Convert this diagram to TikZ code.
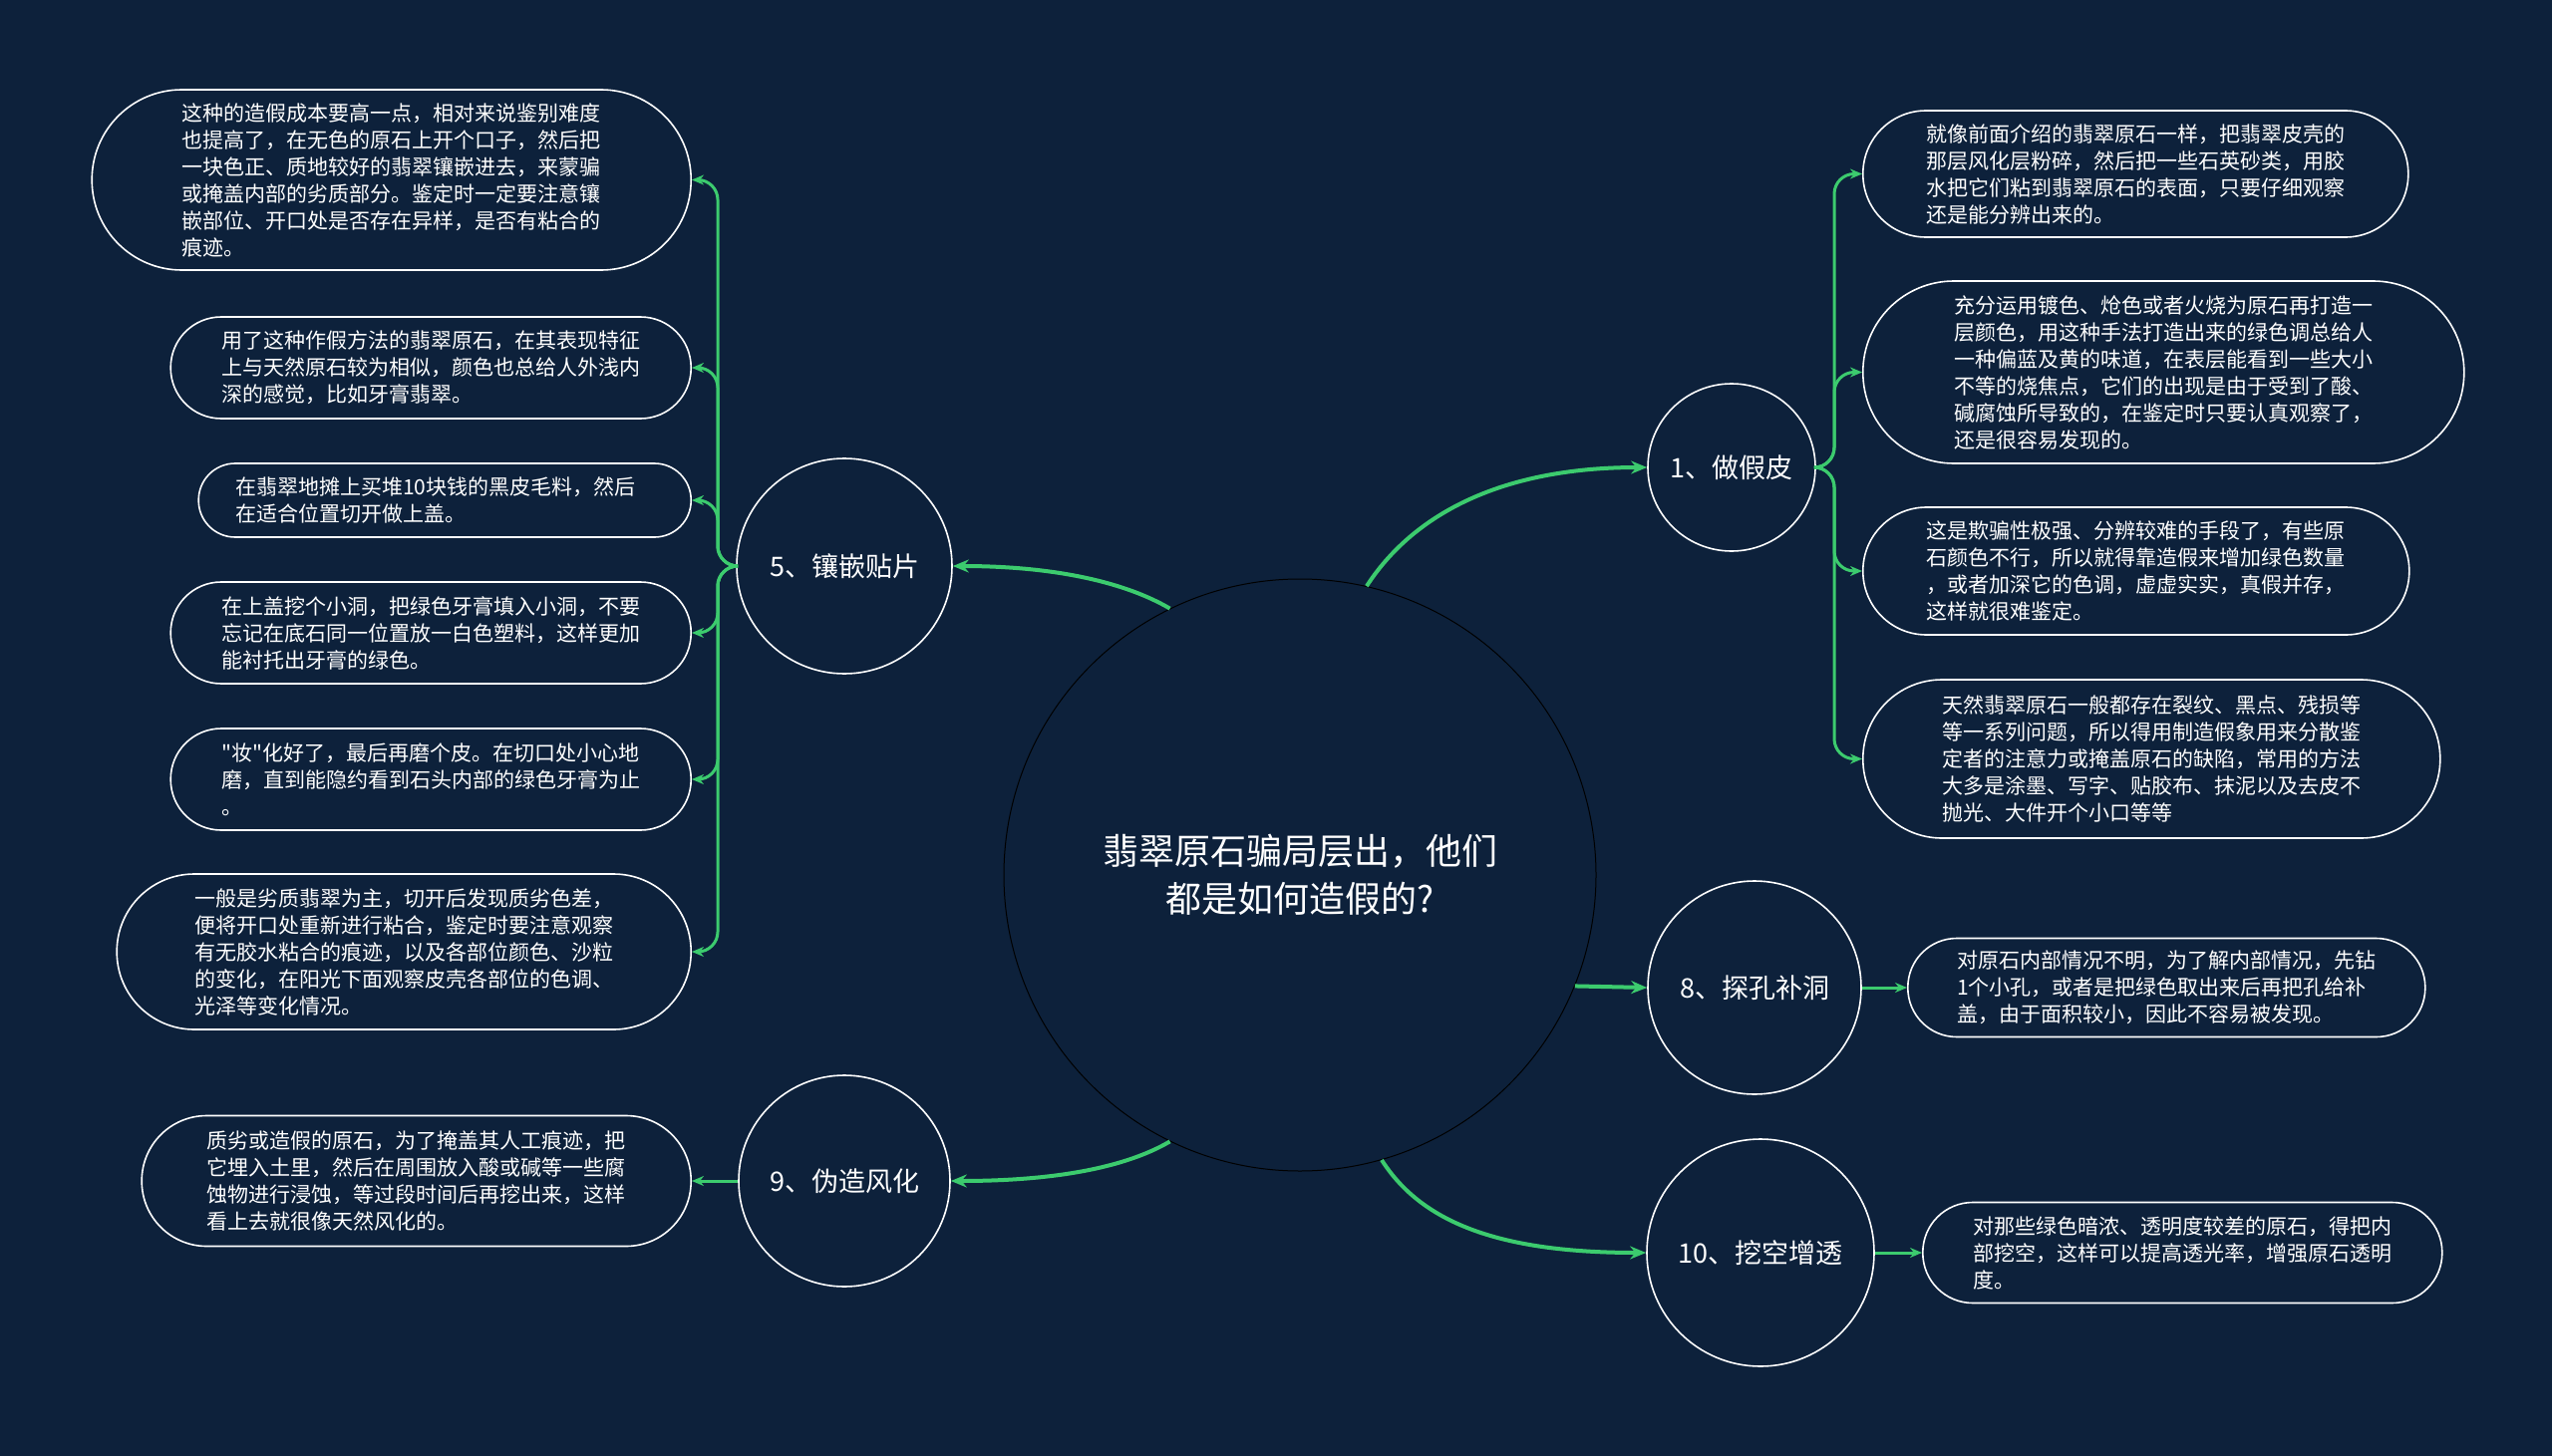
\documentclass[tikz,border=0pt]{standalone}
\usepackage{fontspec}
\newfontfamily\cjk{Noto Sans CJK SC}
\usetikzlibrary{arrows.meta}
\definecolor{bg}{HTML}{0D213B}
\definecolor{gr}{HTML}{3CCB6E}
\begin{document}
\begin{tikzpicture}[x=1pt,y=-1pt,
 leaf/.style={draw=white, line width=1.6pt, fill=bg, text=white,
   font=\cjk\fontsize{21}{27}\selectfont, text width=420pt, align=left,
   inner ysep=0pt, inner xsep=#1, minimum height=2*#1, rounded corners=#1-0.3pt},
 topic/.style={circle, draw=white, line width=1.6pt, fill=bg, text=white,
   font=\cjk\fontsize{27}{32}\selectfont, inner sep=0pt, minimum size=#1},
 mainlink/.style={-{Stealth[length=16pt,width=13pt]}, draw=gr, line width=4pt},
 sublink/.style={-{Stealth[length=12pt,width=10pt]}, draw=gr, line width=3pt, rounded corners=20pt},
]
\useasboundingbox (0,0) rectangle (2560,1461);
\fill[bg] (0,0) rectangle (2560,1461);

% central topic
\node[circle, draw=black, line width=1pt, fill=bg, text=white, minimum size=594pt,
      align=center, font=\cjk\fontsize{36}{48}\selectfont] (ctr) at (1304,878)
      {翡翠原石骗局层出，他们\\都是如何造假的?};

% main topics
\node[topic=168pt] (t1) at (1737,469) {1、做假皮};
\node[topic=214pt] (t8) at (1760,991) {8、探孔补洞};
\node[topic=228pt] (t10) at (1766,1257) {10、挖空增透};
\node[topic=216pt] (t5) at (847,568) {5、镶嵌贴片};
\node[topic=212pt] (t9) at (847,1185) {9、伪造风化};

% right leaves
\node[leaf=63.5pt, anchor=west] (r1) at (1868,174.5) {就像前面介绍的翡翠原石一样，把翡翠皮壳的\\那层风化层粉碎，然后把一些石英砂类，用胶\\水把它们粘到翡翠原石的表面，只要仔细观察\\还是能分辨出来的。};
\node[leaf=91.5pt, anchor=west] (r2) at (1868,373.5) {充分运用镀色、炝色或者火烧为原石再打造一\\层颜色，用这种手法打造出来的绿色调总给人\\一种偏蓝及黄的味道，在表层能看到一些大小\\不等的烧焦点，它们的出现是由于受到了酸、\\碱腐蚀所导致的，在鉴定时只要认真观察了，\\还是很容易发现的。};
\node[leaf=64pt, anchor=west] (r3) at (1868,573) {这是欺骗性极强、分辨较难的手段了，有些原\\石颜色不行，所以就得靠造假来增加绿色数量\\，或者加深它的色调，虚虚实实，真假并存，\\这样就很难鉴定。};
\node[leaf=79.5pt, anchor=west] (r4) at (1868,761.5) {天然翡翠原石一般都存在裂纹、黑点、残损等\\等一系列问题，所以得用制造假象用来分散鉴\\定者的注意力或掩盖原石的缺陷，常用的方法\\大多是涂墨、写字、贴胶布、抹泥以及去皮不\\抛光、大件开个小口等等};
\node[leaf=49.5pt, anchor=west] (r8) at (1913,991) {对原石内部情况不明，为了解内部情况，先钻\\1个小孔，或者是把绿色取出来后再把孔给补\\盖，由于面积较小，因此不容易被发现。};
\node[leaf=50.5pt, anchor=west] (r10) at (1928,1257) {对那些绿色暗浓、透明度较差的原石，得把内\\部挖空，这样可以提高透光率，增强原石透明\\度。};

% left leaves
\node[leaf=90.5pt, anchor=east] (l1) at (694,180.5) {这种的造假成本要高一点，相对来说鉴别难度\\也提高了，在无色的原石上开个口子，然后把\\一块色正、质地较好的翡翠镶嵌进去，来蒙骗\\或掩盖内部的劣质部分。鉴定时一定要注意镶\\嵌部位、开口处是否存在异样，是否有粘合的\\痕迹。};
\node[leaf=51pt, anchor=east] (l2) at (694,369) {用了这种作假方法的翡翠原石，在其表现特征\\上与天然原石较为相似，颜色也总给人外浅内\\深的感觉，比如牙膏翡翠。};
\node[leaf=37pt, anchor=east] (l3) at (694,502) {在翡翠地摊上买堆10块钱的黑皮毛料，然后\\在适合位置切开做上盖。};
\node[leaf=51pt, anchor=east] (l4) at (694,635) {在上盖挖个小洞，把绿色牙膏填入小洞，不要\\忘记在底石同一位置放一白色塑料，这样更加\\能衬托出牙膏的绿色。};
\node[leaf=51pt, anchor=east] (l5) at (694,782) {"妆"化好了，最后再磨个皮。在切口处小心地\\磨，直到能隐约看到石头内部的绿色牙膏为止\\。};
\node[leaf=78pt, anchor=east] (l6) at (694,955) {一般是劣质翡翠为主，切开后发现质劣色差，\\便将开口处重新进行粘合，鉴定时要注意观察\\有无胶水粘合的痕迹，以及各部位颜色、沙粒\\的变化，在阳光下面观察皮壳各部位的色调、\\光泽等变化情况。};
\node[leaf=65.5pt, anchor=east] (l9) at (694,1185) {质劣或造假的原石，为了掩盖其人工痕迹，把\\它埋入土里，然后在周围放入酸或碱等一些腐\\蚀物进行浸蚀，等过段时间后再挖出来，这样\\看上去就很像天然风化的。};

% connectors from centre
\draw[mainlink] (ctr.77) .. controls (1415,520) and (1500,469) .. (t1.west);
\draw[mainlink] (ctr.-22) -- (t8.west);
\draw[mainlink] (ctr.-74) .. controls (1425,1225) and (1500,1257) .. (t10.west);
\draw[mainlink] (ctr.116) .. controls (1130,585) and (1060,568) .. (t5.east);
\draw[mainlink] (ctr.-116) .. controls (1130,1171) and (1060,1185) .. (t9.east);

% branch junctions
\coordinate (j1) at (1840,469);
\coordinate (j5) at (720,568);

\foreach \leafname in {r1,r2,r3,r4}
  \draw[sublink] (t1.east) -- (j1) |- (\leafname.west);
\foreach \leafname in {l1,l2,l3,l4,l5,l6}
  \draw[sublink] (t5.west) -- (j5) |- (\leafname.east);
\draw[sublink] (t8.east) -- (r8.west);
\draw[sublink] (t10.east) -- (r10.west);
\draw[sublink] (t9.west) -- (l9.east);
\end{tikzpicture}
\end{document}
